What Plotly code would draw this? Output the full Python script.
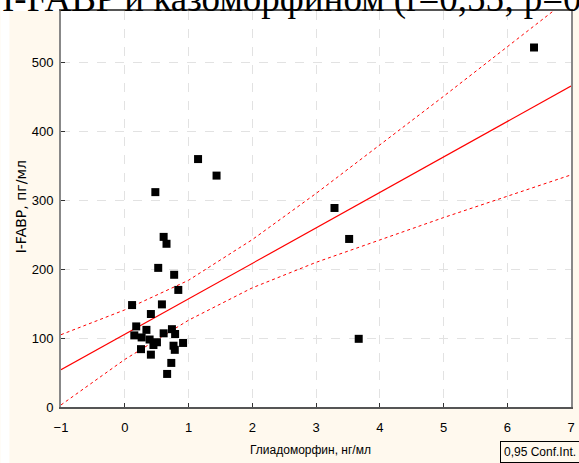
import plotly.graph_objects as go

# scatter data (Глиадоморфин, нг/мл ; I-FABP, пг/мл)
x_pts = [6.42, 1.15, 1.44, 0.48, 0.61, 0.655, 3.29, 3.52, 3.67, 0.525, 0.775, 0.84,
         0.115, 0.583, 0.41, 0.18, 0.34, 0.74, 0.15, 0.265, 0.61, 0.79, 0.39, 0.505,
         0.45, 0.915, 0.765, 0.255, 0.785, 0.41, 0.73, 0.665]
y_pts = [522, 360, 336, 312, 247, 237, 289, 244, 99, 202, 192, 170,
         148, 149, 135, 117, 112, 113, 104, 101, 107, 106, 98, 94,
         90, 93, 89, 84, 83, 76, 64, 48]

# regression line and 0.95 confidence band
fit_x = [-1, 7]
fit_y = [54, 466]
ci_x = [-1, 0, 1, 2, 3, 4, 5, 6, 7]
ci_up = [105, 141, 184, 243, 310, 380, 451, 523, 595]
ci_lo = [3, 69, 126, 173, 210, 243, 275, 306, 337]

x_ticks = [-1, 0, 1, 2, 3, 4, 5, 6, 7]
y_ticks = [0, 100, 200, 300, 400, 500]

W, H = 579, 463
L, R, T, B = 61, 4, 11, 56
pw, ph = W - L - R, H - T - B

def px(p):
    return (p - L) / pw

def py(p):
    return (H - B - p) / ph

fig = go.Figure()
fig.add_trace(go.Scatter(x=ci_x, y=ci_up, mode="lines",
                         line=dict(color="#FF0000", width=1, dash="dot"), hoverinfo="skip"))
fig.add_trace(go.Scatter(x=ci_x, y=ci_lo, mode="lines",
                         line=dict(color="#FF0000", width=1, dash="dot"), hoverinfo="skip"))
fig.add_trace(go.Scatter(x=fit_x, y=fit_y, mode="lines",
                         line=dict(color="#FF0000", width=1.2)))
fig.add_trace(go.Scatter(x=x_pts, y=y_pts, mode="markers",
                         marker=dict(symbol="square", size=8, color="black",
                                     line=dict(width=0))))

cream = "#FFF9EE"
font = "Liberation Sans, Arial, sans-serif"

fig.update_layout(
    width=W, height=H,
    margin=dict(l=L, r=R, t=T, b=B),
    paper_bgcolor=cream,
    plot_bgcolor="white",
    showlegend=False,
    font=dict(family=font, size=13, color="black"),
    xaxis=dict(range=[-1, 7], tickvals=x_ticks, ticks="inside", ticklen=4,
               tickcolor="#333", showline=True, linecolor="#555", linewidth=2,
               mirror=True, showgrid=True, gridcolor="#E2E2E2", griddash="dash",
               gridwidth=1, zeroline=False, ticklabelstandoff=7),
    yaxis=dict(range=[0, 575], tickvals=y_ticks, ticks="inside", ticklen=4,
               tickcolor="#333", showline=True, linecolor="#888", linewidth=2,
               mirror=True, showgrid=True, gridcolor="#E2E2E2", griddash="dash",
               gridwidth=1, zeroline=False, ticklabelstandoff=3),
    shapes=[
        dict(type="rect", xref="paper", yref="paper", layer="below",
             x0=px(0), x1=px(W), y0=py(T), y1=py(0),
             fillcolor="white", line=dict(width=0)),
        dict(type="rect", xref="paper", yref="paper", layer="below",
             x0=px(0), x1=px(9), y0=py(H), y1=py(0),
             fillcolor="white", line=dict(width=0)),
    ],
    annotations=[
        dict(text="I-FABP и казоморфином (r=0,55; p=0,001)", xref="paper", yref="paper",
             x=px(0), y=py(22), xanchor="left", yanchor="bottom", showarrow=False,
             font=dict(family="Liberation Serif, Times New Roman, serif", size=37, color="black")),
        dict(text="I-FABP, пг/мл", xref="paper", yref="paper", x=px(21), y=py(207),
             xanchor="center", yanchor="middle", textangle=-90, showarrow=False,
             font=dict(family="DejaVu Sans, sans-serif", size=14)),
        dict(text="Глиадоморфин, нг/мл", xref="paper", yref="paper", x=px(312), y=py(450),
             xanchor="center", yanchor="middle", showarrow=False,
             font=dict(family=font, size=12)),
        dict(text="0,95 Conf.Int.", xref="paper", yref="paper", x=px(503), y=py(441),
             xanchor="left", yanchor="top", showarrow=False, align="left",
             bordercolor="black", borderwidth=1, borderpad=3,
             font=dict(family=font, size=12)),
    ],
)

fig.write_html("out.html")
